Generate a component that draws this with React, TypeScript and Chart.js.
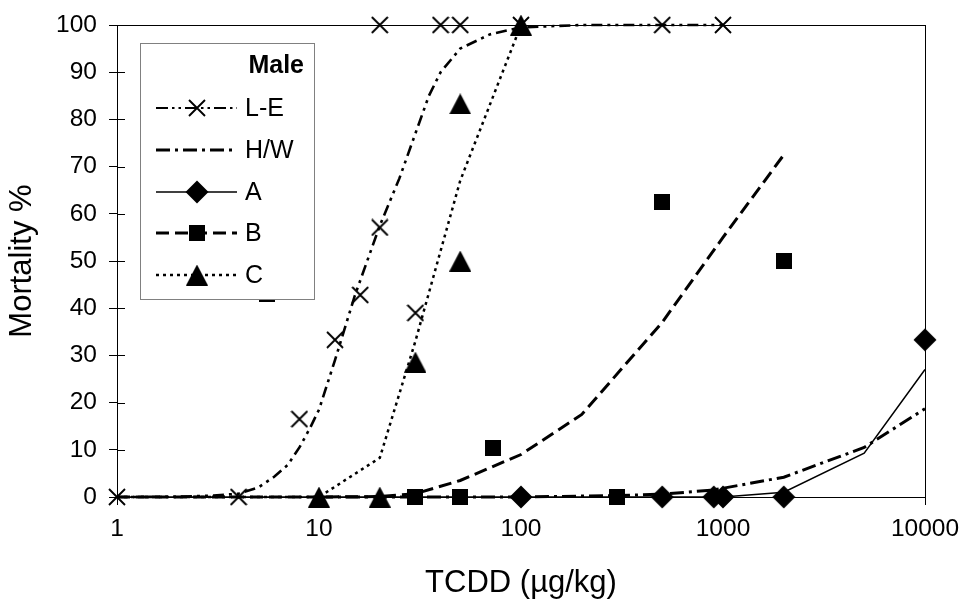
import React, { useEffect, useRef } from "react";
import { Chart, registerables } from "chart.js";

Chart.register(...registerables);

// ---------- data ----------
const xTicks = [1, 10, 100, 1000, 10000];
const yMin = 0;
const yMax = 100;
const yStep = 10;

// observed points (markers)
const leX = [1, 4, 8, 12, 16, 20, 20, 30, 40, 50, 100, 500, 1000];
const leY = [0, 0, 16.5, 33.3, 42.8, 57.1, 100, 39, 100, 100, 100, 100, 100];

const aX = [100, 500, 900, 1000, 2000, 10000];
const aY = [0, 0, 0, 0, 0, 33.3];

const bX = [5.5, 30, 50, 73, 300, 500, 2000];
const bY = [43, 0, 0, 10.3, 0, 62.5, 50];

const cX = [10, 20, 30, 50, 50, 100];
const cY = [0, 0, 28.6, 50, 83.3, 100];

// fitted curves (lines)
const leFitX = [1, 2, 3, 4, 5, 6, 7, 8, 9, 10, 12, 15, 20, 25, 30, 35, 40, 50, 70, 100, 200, 500, 1000];
const leFitY = [0, 0.05, 0.3, 0.7, 2, 4.3, 6.8, 10.5, 14.5, 18.5, 29, 42.5, 57.5, 67.5, 77, 85, 90, 95, 98, 99.5, 100, 100, 100];

const hwFitX = [10, 100, 300, 500, 900, 2000, 5000, 10000];
const hwFitY = [0, 0, 0.3, 0.6, 1.5, 4.2, 10.5, 18.7];

const aFitX = [1, 100, 500, 1000, 2000, 5000, 10000];
const aFitY = [0, 0, 0, 0, 1, 9.3, 27];

const bFitX = [1, 10, 20, 30, 50, 100, 200, 500, 1000, 2000];
const bFitY = [0, 0, 0.1, 0.7, 3.5, 9, 17.5, 37, 55, 72.5];

const cFitX = [1, 10, 20, 30, 50, 100];
const cFitY = [0, 0, 8.3, 33, 67, 100];

const legendTitle = "Male";
const legendNames = ["L-E", "H/W", "A", "B", "C"];

const xTitle = "TCDD (µg/kg)";
const yTitle = "Mortality %";

// ---------- styles ----------
const FONT = "'Liberation Sans', Arial, sans-serif";
const TICK_SIZE = 24.5;
const TITLE_SIZE = 31;
const LEGEND_SIZE = 25;
const dashLE = [12, 4, 2.5, 4, 2.5, 4];
const dashLeftCurve = [11, 5, 3, 5, 3, 5];
const dashHW = [14, 5, 3, 5];
const dashB = [13, 6];
const dashC = [3, 4];

function pts(xs: number[], ys: number[]) {
  return xs.map((x, i) => ({ x, y: ys[i] }));
}

function makeMarker(kind: string): HTMLCanvasElement {
  const c = document.createElement("canvas");
  const ctx = c.getContext("2d") as CanvasRenderingContext2D;
  if (kind === "x") {
    c.width = 18; c.height = 18;
    ctx.strokeStyle = "#000";
    ctx.lineWidth = 1.9;
    ctx.beginPath();
    ctx.moveTo(1, 1); ctx.lineTo(17, 17);
    ctx.moveTo(17, 1); ctx.lineTo(1, 17);
    ctx.stroke();
  } else if (kind === "diamond") {
    c.width = 24; c.height = 24;
    ctx.fillStyle = "#000";
    ctx.beginPath();
    ctx.moveTo(12, 0.5); ctx.lineTo(23.5, 12); ctx.lineTo(12, 23.5); ctx.lineTo(0.5, 12);
    ctx.closePath(); ctx.fill();
  } else if (kind === "square") {
    c.width = 16; c.height = 16;
    ctx.fillStyle = "#000";
    ctx.fillRect(0, 0, 16, 16);
  } else {
    c.width = 22; c.height = 21;
    ctx.fillStyle = "#000";
    ctx.beginPath();
    ctx.moveTo(11, 0); ctx.lineTo(22, 21); ctx.lineTo(0, 21);
    ctx.closePath(); ctx.fill();
  }
  return c;
}

export default function App() {
  const ref = useRef<HTMLCanvasElement | null>(null);

  useEffect(() => {
    if (!ref.current) return;
    const mX = makeMarker("x");
    const mD = makeMarker("diamond");
    const mS = makeMarker("square");
    const mT = makeMarker("triangle");

    const legendItems = [
      { name: legendNames[0], dash: dashLE, width: 2, marker: mX },
      { name: legendNames[1], dash: dashHW, width: 3, marker: null },
      { name: legendNames[2], dash: [] as number[], width: 1.5, marker: mD },
      { name: legendNames[3], dash: dashB, width: 3, marker: mS },
      { name: legendNames[4], dash: dashC, width: 2.5, marker: mT },
    ];

    const decor = {
      id: "decor",
      afterDatasetsDraw(chart: any) {
        const { ctx, chartArea } = chart;
        const xs = chart.scales.x;
        const ys = chart.scales.y;
        ctx.save();
        // plot border (top/right)
        ctx.strokeStyle = "#000";
        ctx.lineWidth = 1;
        ctx.setLineDash([]);
        ctx.beginPath();
        ctx.moveTo(chartArea.left, Math.round(chartArea.top) + 0.5);
        ctx.lineTo(chartArea.right, Math.round(chartArea.top) + 0.5);
        ctx.moveTo(Math.round(chartArea.right) + 0.5, chartArea.top);
        ctx.lineTo(Math.round(chartArea.right) + 0.5, chartArea.bottom);
        ctx.stroke();
        // inner tick marks (cross ticks)
        ctx.beginPath();
        for (let v = yMin; v <= yMax; v += yStep) {
          const py = Math.round(ys.getPixelForValue(v)) + 0.5;
          ctx.moveTo(chartArea.left, py);
          ctx.lineTo(chartArea.left + 8, py);
        }
        for (const v of xTicks) {
          const px = Math.round(xs.getPixelForValue(v)) + 0.5;
          ctx.moveTo(px, chartArea.bottom);
          ctx.lineTo(px, chartArea.bottom - 8);
        }
        ctx.stroke();

        // legend box
        const L = 140, T = 43, W = 174, H = 256;
        ctx.fillStyle = "#fff";
        ctx.fillRect(L, T, W, H);
        ctx.strokeStyle = "#808080";
        ctx.lineWidth = 1;
        ctx.strokeRect(L + 0.5, T + 0.5, W, H);

        ctx.fillStyle = "#000";
        ctx.textBaseline = "middle";
        ctx.font = `bold ${LEGEND_SIZE}px ${FONT}`;
        ctx.textAlign = "right";
        ctx.fillText(legendTitle, 304, 66);

        ctx.font = `${LEGEND_SIZE}px ${FONT}`;
        ctx.textAlign = "left";
        legendItems.forEach((it, i) => {
          const y = Math.round(108 + i * 41.75);
          ctx.strokeStyle = "#000";
          ctx.lineWidth = it.width;
          ctx.setLineDash(it.dash);
          ctx.beginPath();
          ctx.moveTo(156, y);
          ctx.lineTo(237, y);
          ctx.stroke();
          ctx.setLineDash([]);
          if (it.marker) {
            ctx.drawImage(it.marker, 197 - it.marker.width / 2, y - it.marker.height / 2);
          }
          ctx.fillStyle = "#000";
          ctx.fillText(it.name, 245, y + 1);
        });
        ctx.restore();
      },
    };

    const markerDs = (label: string, xs: number[], ys: number[], m: HTMLCanvasElement) => ({
      label,
      data: pts(xs, ys),
      showLine: false,
      pointStyle: m,
      pointRadius: 6,
      pointHoverRadius: 6,
      clip: false,
    });
    const lineDs = (label: string, xs: number[], ys: number[], dash: number[], w: number) => ({
      label,
      data: pts(xs, ys),
      showLine: true,
      borderColor: "#000",
      backgroundColor: "#000",
      borderWidth: w,
      borderDash: dash,
      pointRadius: 0,
      pointHoverRadius: 0,
      tension: 0,
      fill: false,
      clip: 4,
    });

    const chart = new Chart(ref.current, {
      type: "scatter",
      data: {
        datasets: [
          markerDs("L-E", leX, leY, mX),
          markerDs("A", aX, aY, mD),
          markerDs("B", bX, bY, mS),
          markerDs("C", cX, cY, mT),
          lineDs("A fit", aFitX, aFitY, [], 1.5),
          lineDs("C fit", cFitX, cFitY, dashC, 2.5),
          lineDs("B fit", bFitX, bFitY, dashB, 3),
          lineDs("H/W fit (right)", hwFitX, hwFitY, dashHW, 3),
          lineDs("L-E / H/W fit (left)", leFitX, leFitY, dashLeftCurve, 2.6),
        ] as any,
      },
      options: {
        animation: false,
        responsive: false,
        devicePixelRatio: 1,
        events: [],
        layout: { padding: { left: 0, right: 37, top: 25, bottom: 0 } },
        plugins: { legend: { display: false }, tooltip: { enabled: false } },
        scales: {
          x: {
            type: "logarithmic",
            min: 1,
            max: 10000,
            afterBuildTicks: (s: any) => {
              s.ticks = xTicks.map((v) => ({ value: v }));
            },
            afterFit: (s: any) => {
              s.height = 102;
              s.paddingLeft = 0;
              s.paddingRight = 0;
            },
            ticks: {
              callback: (v: any) => String(v),
              color: "#000",
              font: { family: FONT, size: TICK_SIZE },
              padding: 10,
              maxRotation: 0,
              autoSkip: false,
            },
            grid: { drawOnChartArea: false, drawTicks: true, tickLength: 8, color: "#000" },
            border: { display: true, color: "#000", width: 1 },
            title: {
              display: true,
              text: xTitle,
              color: "#000",
              font: { family: FONT, size: TITLE_SIZE },
              padding: { top: 0, bottom: -3 },
            },
          },
          y: {
            min: yMin,
            max: yMax,
            afterFit: (s: any) => {
              s.width = 117;
              s.paddingTop = 0;
              s.paddingBottom = 0;
            },
            ticks: {
              stepSize: yStep,
              color: "#000",
              font: { family: FONT, size: TICK_SIZE },
              padding: 12,
            },
            grid: { drawOnChartArea: false, drawTicks: true, tickLength: 8, color: "#000" },
            border: { display: true, color: "#000", width: 1 },
            title: {
              display: true,
              text: yTitle,
              color: "#000",
              font: { family: FONT, size: TITLE_SIZE },
              padding: { top: 4, bottom: 0 },
            },
          },
        },
      } as any,
      plugins: [decor],
    });
    return () => chart.destroy();
  }, []);

  return (
    <div style={{ position: "absolute", left: 0, top: 0, width: 962, height: 599, background: "#fff" }}>
      <canvas ref={ref} width={962} height={599} style={{ display: "block", width: 962, height: 599 }} />
    </div>
  );
}
